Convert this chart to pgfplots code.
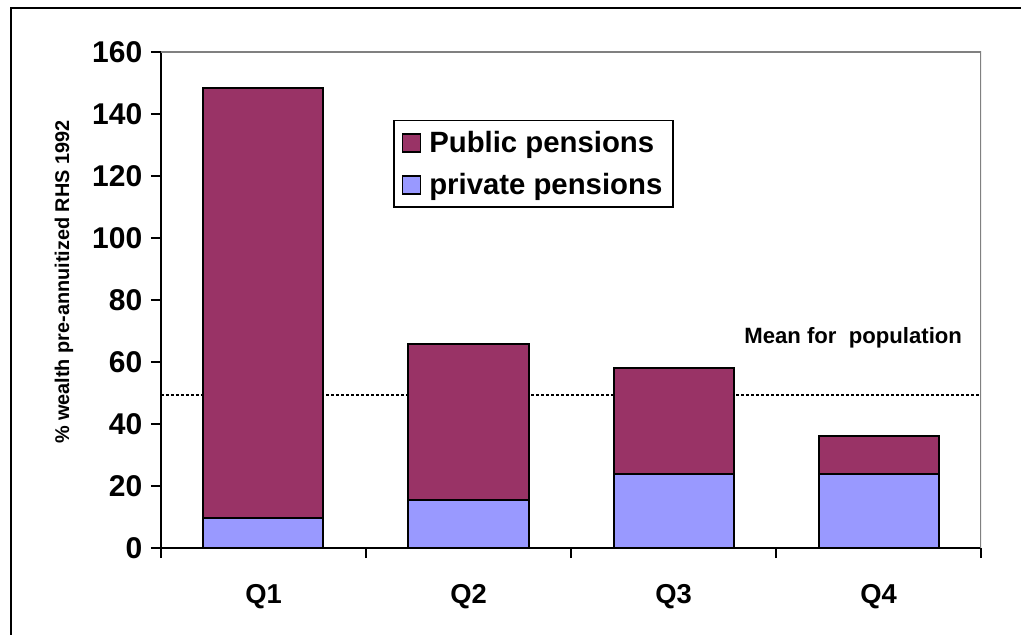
\documentclass[border=0pt]{standalone}
\usepackage{fontspec}
\setmainfont{Liberation Sans}
\usepackage{pgfplots}
\pgfplotsset{compat=1.18}
\definecolor{pub}{HTML}{993366}
\definecolor{priv}{HTML}{9999FF}
\definecolor{frgray}{RGB}{128,128,128}
\begin{document}
\begin{tikzpicture}[x=1pt,y=1pt]
\useasboundingbox (-120.75,-65.25) rectangle (645,411);
\begin{axis}[
  scale only axis, width=615pt, height=372pt,
  at={(0,0)}, anchor=south west,
  xmin=-0.5, xmax=3.5, ymin=0, ymax=160,
  ytick={0,20,...,160},
  axis x line*=bottom, axis y line*=left,
  axis line style={line width=2pt, black, -},
  tick align=outside, major tick length=7.5pt,
  tick style={line width=1.5pt, black},
  xtick={-0.5,0.5,1.5,2.5,3.5}, xticklabels={},
  extra x ticks={0,1,2,3}, extra x tick labels={Q1,Q2,Q3,Q4},
  extra x tick style={major tick length=0pt, tick label style={yshift=-24pt, font=\bfseries\fontsize{20.5}{24}\selectfont}},
  /pgf/number format/assume math mode=true,
  yticklabel style={font=\bfseries\fontsize{22.5}{26}\selectfont, xshift=-3pt},
  ylabel={\% wealth pre-annuitized RHS 1992},
  ylabel style={at={(axis description cs:-0.1183,0.536)}, anchor=center, font=\bfseries\fontsize{14.9}{17}\selectfont},
  ybar stacked, bar width=90pt,
  reverse legend,
  legend style={at={(0.283,0.863)}, anchor=north west, draw=black, line width=1.1pt,
    font=\bfseries\fontsize{22}{26}\selectfont, cells={anchor=west}, row sep=10pt,
    column sep=4pt, inner xsep=6pt, inner ysep=6pt},
  legend image code/.code={\draw[#1,draw=black,line width=1.1pt] (0pt,-6.75pt) rectangle (13.5pt,6.75pt);},
]
\addplot[fill=priv, draw=black, line width=1.5pt] coordinates {(0,9.6) (1,15.5) (2,23.9) (3,23.9)};
\addlegendentry{private pensions}
\addplot[fill=pub, draw=black, line width=1.5pt] coordinates {(0,138.8) (1,50.3) (2,34.1) (3,12.2)};
\addlegendentry{Public pensions}
\draw[black, line width=1.2pt, dash pattern=on 2.25pt off 1.5pt] (axis cs:-0.5,49.45) -- (axis cs:3.5,49.45);
\draw[frgray, line width=1.5pt] (rel axis cs:0,1) -- (rel axis cs:1,1) -- (rel axis cs:1,0);
\node[anchor=east, font=\bfseries\fontsize{16.6}{19}\selectfont] at (axis cs:3.43,67.7) {Mean for~ population};
\end{axis}
\draw[line width=2pt] (-112.5,-80) -- (-112.5,405) -- (660,405);
\end{tikzpicture}
\end{document}
